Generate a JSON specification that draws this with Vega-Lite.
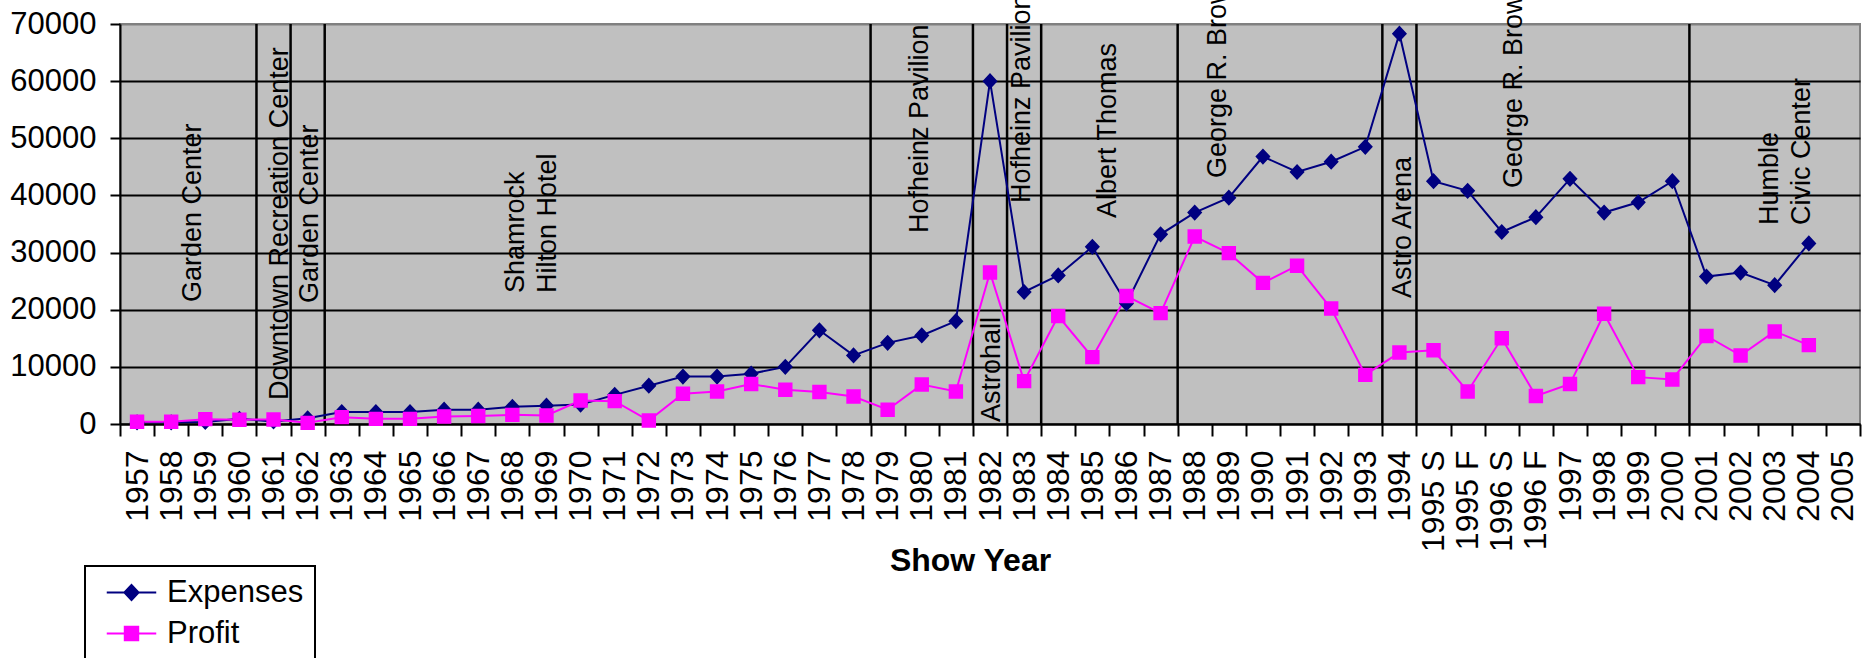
{
  "$schema": "https://vega.github.io/schema/vega-lite/v6.json",
  "usermeta": {"embedOptions": {"actions": false}},
  "width": 1740,
  "height": 400,
  "autosize": {"type": "none"},
  "padding": {"left": 120, "top": 24, "right": 2, "bottom": 234},
  "background": "white",
  "config": {
    "font": "Liberation Sans",
    "view": {"fill": "#C0C0C0", "stroke": "#808080", "strokeWidth": 2},
    "axis": {
      "domainColor": "black", "domainWidth": 2, "tickColor": "black", "tickWidth": 2,
      "labelColor": "black", "titleColor": "black", "labelFont": "Liberation Sans", "titleFont": "Liberation Sans"
    },
    "axisX": {
      "grid": false, "labelAngle": -90, "labelFontSize": 32, "tickBand": "extent", "tickSize": 12,
      "labelPadding": 14, "titleFontSize": 32, "titleFontWeight": "bold", "titleX": 850, "titleY": 136,
      "titleBaseline": "middle", "titleAlign": "center", "labelOverlap": false
    },
    "axisY": {
      "grid": true, "gridColor": "black", "gridWidth": 2, "gridOpacity": 1, "tickSize": 10, "tickCount": 7,
      "labelPadding": 14, "labelFontSize": 31, "format": "d"
    }
  },
  "datasets": {
    "shows": [
      {"year": "1957", "series": "Expenses", "value": 300},
      {"year": "1958", "series": "Expenses", "value": 300},
      {"year": "1959", "series": "Expenses", "value": 350},
      {"year": "1960", "series": "Expenses", "value": 900},
      {"year": "1961", "series": "Expenses", "value": 450},
      {"year": "1962", "series": "Expenses", "value": 1000},
      {"year": "1963", "series": "Expenses", "value": 2100},
      {"year": "1964", "series": "Expenses", "value": 2100},
      {"year": "1965", "series": "Expenses", "value": 2100},
      {"year": "1966", "series": "Expenses", "value": 2500},
      {"year": "1967", "series": "Expenses", "value": 2500},
      {"year": "1968", "series": "Expenses", "value": 3000},
      {"year": "1969", "series": "Expenses", "value": 3200},
      {"year": "1970", "series": "Expenses", "value": 3400},
      {"year": "1971", "series": "Expenses", "value": 5100},
      {"year": "1972", "series": "Expenses", "value": 6700},
      {"year": "1973", "series": "Expenses", "value": 8300},
      {"year": "1974", "series": "Expenses", "value": 8300},
      {"year": "1975", "series": "Expenses", "value": 8800},
      {"year": "1976", "series": "Expenses", "value": 10000},
      {"year": "1977", "series": "Expenses", "value": 16400},
      {"year": "1978", "series": "Expenses", "value": 12000},
      {"year": "1979", "series": "Expenses", "value": 14200},
      {"year": "1980", "series": "Expenses", "value": 15500},
      {"year": "1981", "series": "Expenses", "value": 18000},
      {"year": "1982", "series": "Expenses", "value": 60000},
      {"year": "1983", "series": "Expenses", "value": 23100},
      {"year": "1984", "series": "Expenses", "value": 26000},
      {"year": "1985", "series": "Expenses", "value": 31000},
      {"year": "1986", "series": "Expenses", "value": 21100},
      {"year": "1987", "series": "Expenses", "value": 33200},
      {"year": "1988", "series": "Expenses", "value": 37000},
      {"year": "1989", "series": "Expenses", "value": 39600},
      {"year": "1990", "series": "Expenses", "value": 46800},
      {"year": "1991", "series": "Expenses", "value": 44100},
      {"year": "1992", "series": "Expenses", "value": 45900},
      {"year": "1993", "series": "Expenses", "value": 48500},
      {"year": "1994", "series": "Expenses", "value": 68300},
      {"year": "1995 S", "series": "Expenses", "value": 42500},
      {"year": "1995 F", "series": "Expenses", "value": 40800},
      {"year": "1996 S", "series": "Expenses", "value": 33600},
      {"year": "1996 F", "series": "Expenses", "value": 36200},
      {"year": "1997", "series": "Expenses", "value": 42900},
      {"year": "1998", "series": "Expenses", "value": 37000},
      {"year": "1999", "series": "Expenses", "value": 38800},
      {"year": "2000", "series": "Expenses", "value": 42500},
      {"year": "2001", "series": "Expenses", "value": 25800},
      {"year": "2002", "series": "Expenses", "value": 26500},
      {"year": "2003", "series": "Expenses", "value": 24300},
      {"year": "2004", "series": "Expenses", "value": 31600},
      {"year": "1957", "series": "Profit", "value": 400},
      {"year": "1958", "series": "Profit", "value": 400},
      {"year": "1959", "series": "Profit", "value": 850},
      {"year": "1960", "series": "Profit", "value": 750},
      {"year": "1961", "series": "Profit", "value": 800},
      {"year": "1962", "series": "Profit", "value": 200},
      {"year": "1963", "series": "Profit", "value": 1200},
      {"year": "1964", "series": "Profit", "value": 900},
      {"year": "1965", "series": "Profit", "value": 900},
      {"year": "1966", "series": "Profit", "value": 1300},
      {"year": "1967", "series": "Profit", "value": 1400},
      {"year": "1968", "series": "Profit", "value": 1600},
      {"year": "1969", "series": "Profit", "value": 1500},
      {"year": "1970", "series": "Profit", "value": 4100},
      {"year": "1971", "series": "Profit", "value": 4000},
      {"year": "1972", "series": "Profit", "value": 600},
      {"year": "1973", "series": "Profit", "value": 5300},
      {"year": "1974", "series": "Profit", "value": 5700},
      {"year": "1975", "series": "Profit", "value": 7000},
      {"year": "1976", "series": "Profit", "value": 6000},
      {"year": "1977", "series": "Profit", "value": 5600},
      {"year": "1978", "series": "Profit", "value": 4800},
      {"year": "1979", "series": "Profit", "value": 2500},
      {"year": "1980", "series": "Profit", "value": 6900},
      {"year": "1981", "series": "Profit", "value": 5700},
      {"year": "1982", "series": "Profit", "value": 26500},
      {"year": "1983", "series": "Profit", "value": 7500},
      {"year": "1984", "series": "Profit", "value": 18900},
      {"year": "1985", "series": "Profit", "value": 11700},
      {"year": "1986", "series": "Profit", "value": 22400},
      {"year": "1987", "series": "Profit", "value": 19400},
      {"year": "1988", "series": "Profit", "value": 32800},
      {"year": "1989", "series": "Profit", "value": 29900},
      {"year": "1990", "series": "Profit", "value": 24700},
      {"year": "1991", "series": "Profit", "value": 27700},
      {"year": "1992", "series": "Profit", "value": 20200},
      {"year": "1993", "series": "Profit", "value": 8600},
      {"year": "1994", "series": "Profit", "value": 12500},
      {"year": "1995 S", "series": "Profit", "value": 12900},
      {"year": "1995 F", "series": "Profit", "value": 5700},
      {"year": "1996 S", "series": "Profit", "value": 15000},
      {"year": "1996 F", "series": "Profit", "value": 4900},
      {"year": "1997", "series": "Profit", "value": 7000},
      {"year": "1998", "series": "Profit", "value": 19300},
      {"year": "1999", "series": "Profit", "value": 8200},
      {"year": "2000", "series": "Profit", "value": 7800},
      {"year": "2001", "series": "Profit", "value": 15400},
      {"year": "2002", "series": "Profit", "value": 12000},
      {"year": "2003", "series": "Profit", "value": 16200},
      {"year": "2004", "series": "Profit", "value": 13800}
    ],
    "changes": [
      {"year": "1961"}, {"year": "1962"}, {"year": "1963"}, {"year": "1979"}, {"year": "1982"},
      {"year": "1983"}, {"year": "1984"}, {"year": "1988"}, {"year": "1994"}, {"year": "1995 S"}, {"year": "2001"}
    ],
    "venues": [
      {"venue": "Garden Center", "pos": 2.14, "level": 21350},
      {"venue": "Downtown Recreation Center", "pos": 4.69, "level": 4200},
      {"venue": "Garden Center", "pos": 5.57, "level": 21175},
      {"venue": "Shamrock\nHilton Hotel", "pos": 11.61, "level": 22925},
      {"venue": "Hofheinz Pavilion", "pos": 23.46, "level": 33425},
      {"venue": "Astrohall", "pos": 25.55, "level": 350},
      {"venue": "Hofheinz Pavilion", "pos": 26.45, "level": 38675},
      {"venue": "Albert Thomas", "pos": 28.97, "level": 36050},
      {"venue": "George R. Brown Convention Center", "pos": 32.17, "level": 43050},
      {"venue": "Astro Arena", "pos": 37.6, "level": 22050},
      {"venue": "George R. Brown Convention Center", "pos": 40.85, "level": 41300},
      {"venue": "Humble\nCivic Center", "pos": 48.36, "level": 34825}
    ]
  },
  "layer": [
    {
      "layer": [
        {
          "data": {"name": "changes"},
          "mark": {"type": "rule", "color": "black", "strokeWidth": 2.5},
          "encoding": {
            "x": {
              "field": "year", "type": "ordinal", "bandPosition": 0, "title": "Show Year",
              "scale": {"type": "band", "paddingInner": 0, "paddingOuter": 0,
                "domain": ["1957","1958","1959","1960","1961","1962","1963","1964","1965","1966","1967","1968","1969","1970","1971","1972","1973","1974","1975","1976","1977","1978","1979","1980","1981","1982","1983","1984","1985","1986","1987","1988","1989","1990","1991","1992","1993","1994","1995 S","1995 F","1996 S","1996 F","1997","1998","1999","2000","2001","2002","2003","2004","2005"]}
            }
          }
        },
        {
          "data": {"name": "shows"},
          "mark": {"type": "line", "strokeWidth": 2},
          "encoding": {
            "x": {"field": "year", "type": "ordinal", "bandPosition": 0.5, "title": "Show Year"},
            "y": {"field": "value", "type": "quantitative", "title": null, "scale": {"domain": [0, 70000], "nice": false},
              "axis": {"gridColor": {"condition": {"test": "datum.value === 70000", "value": "#808080"}, "value": "black"}}},
            "color": {
              "field": "series", "type": "nominal",
              "scale": {"domain": ["Expenses", "Profit"], "range": ["#000080", "#FF00FF"]},
              "legend": {
                "orient": "none", "legendX": -35, "legendY": 542, "title": null,
                "strokeColor": "black", "fillColor": "white", "padding": 11,
                "labelFontSize": 31, "labelFont": "Liberation Sans", "labelColor": "black",
                "symbolSize": 200, "symbolStrokeWidth": 2, "symbolOffset": 20, "labelOffset": 20, "rowPadding": 9,
                "encode": {
                  "legend": {"update": {"strokeWidth": {"value": 2}}},
                  "symbols": {"update": {
                    "stroke": {"signal": "datum.value === 'Expenses' ? '#000080' : '#FF00FF'"},
                    "fill": {"signal": "datum.value === 'Expenses' ? '#000080' : '#FF00FF'"},
                    "strokeWidth": {"value": 2},
                    "opacity": {"value": 1},
                    "fillOpacity": {"value": 1},
                    "strokeOpacity": {"value": 1}
                  }}
                }
              }
            }
          }
        },
        {
          "data": {"name": "shows"},
          "mark": {"type": "point", "filled": true, "opacity": 1, "size": 230, "strokeWidth": 0},
          "encoding": {
            "x": {"field": "year", "type": "ordinal", "bandPosition": 0.5, "title": "Show Year"},
            "y": {"field": "value", "type": "quantitative", "title": null},
            "color": {"field": "series", "type": "nominal"},
            "shape": {"field": "series", "type": "nominal",
              "scale": {"domain": ["Expenses", "Profit"], "range": ["M-3.5,0H3.5M-1,0L0,-1.07L1,0L0,1.07Z", "M-3.5,0H3.5M-0.95,-0.95H0.95V0.95H-0.95Z"]}}
          }
        }
      ]
    },
    {
      "data": {"name": "venues"},
      "mark": {"type": "text", "angle": 270, "align": "left", "baseline": "middle", "fontSize": 27, "font": "Liberation Sans", "color": "black", "lineBreak": "\n", "lineHeight": 32},
      "encoding": {
        "x": {"field": "pos", "type": "quantitative", "scale": {"domain": [0, 51], "nice": false, "zero": false}, "axis": null},
        "y": {"field": "level", "type": "quantitative", "title": null},
        "text": {"field": "venue", "type": "nominal"}
      }
    }
  ],
  "resolve": {"scale": {"x": "independent"}}
}
